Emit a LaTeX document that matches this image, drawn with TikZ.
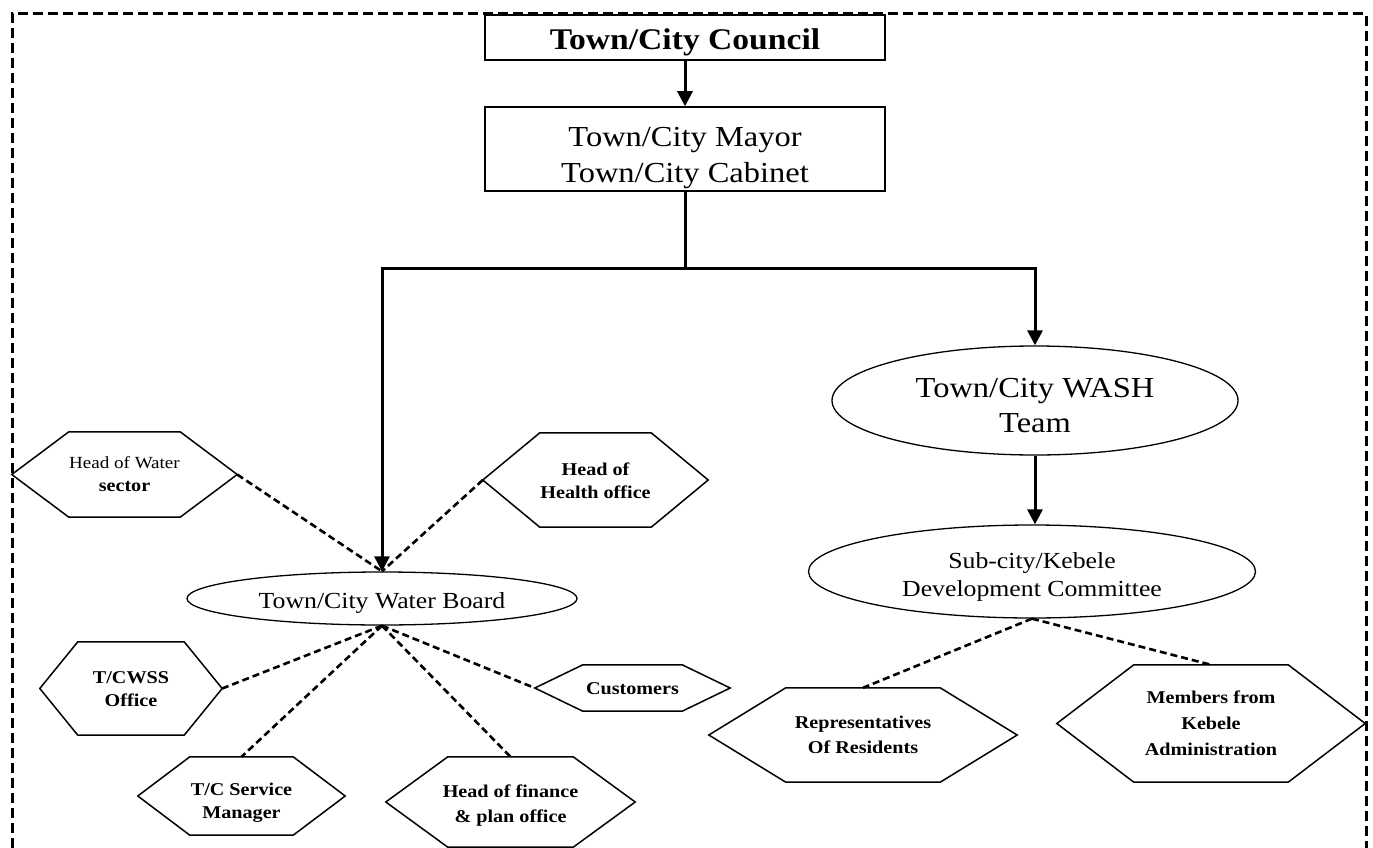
\documentclass[tikz,border=0pt]{standalone}
\usepackage{fontspec}
\setmainfont{Liberation Serif}[FakeStretch=1.12]
\usetikzlibrary{shapes.geometric,arrows.meta,calc}
\tikzset{
  box/.style={draw, line width=1.5pt, rectangle, inner sep=0pt},
  oval/.style={draw, ellipse, line width=1.3pt, inner sep=0pt},
  hexn/.style={inner sep=0pt},
  tx/.style={inner sep=0pt, align=center},
  hextx/.style={tx, font=\fontsize{18}{23}\selectfont\bfseries},
  hexline/.style={line width=1.5pt, line join=miter},
  arr/.style={line width=3pt, -{Triangle[length=15pt,width=15pt]}},
  trunk/.style={line width=3pt},
  dcon/.style={line width=2.6pt, dash pattern=on 7pt off 4pt},
  framel/.style={line width=3pt, dash pattern=on 10pt off 5pt},
}
\begin{document}
\begin{tikzpicture}[x=1pt,y=-1pt]
\path[fill=white,use as bounding box] (0,0) rectangle (1373,848);
\draw[framel] (12,848) -- (12,14) -- (1366,14) -- (1366,848);

% boxes
\node[box, minimum width=400, minimum height=45] (council) at (685,37.5) {};
\node[tx, font=\fontsize{30}{34}\selectfont\bfseries] (council-t) at ([yshift=-5pt]council.center) {Town/City Council};
\node[box, minimum width=400, minimum height=84] (mayor) at (685,149) {};
\node[tx, font=\fontsize{29}{36}\selectfont] (mayor-t) at ([yshift=-9pt]mayor.center) {Town/City Mayor\\Town/City Cabinet};

% ellipses
\node[oval, minimum width=390, minimum height=53] (wb) at (382,598.5) {};
\node[tx, font=\fontsize{23}{27}\selectfont] (wb-t) at ([yshift=-4pt]wb.center) {Town/City Water Board};
\node[oval, minimum width=406, minimum height=109] (wt) at (1035,400.5) {};
\node[tx, font=\fontsize{29}{35}\selectfont] (wt-t) at ([yshift=-5pt]wt.center) {Town/City WASH\\Team};
\node[oval, minimum width=447, minimum height=93] (sc) at (1032,571.5) {};
\node[tx, font=\fontsize{23}{28}\selectfont] (sc-t) at ([yshift=-5pt]sc.center) {Sub-city/Kebele\\Development Committee};

% hexagon shapes
\node[hexn, minimum width=225, minimum height=85] (ws) at (124.5,474.5) {};
\node[hexn, minimum width=225, minimum height=94] (ho) at (595.5,480) {};
\node[hexn, minimum width=182, minimum height=93] (tc) at (131,688.5) {};
\node[hexn, minimum width=207, minimum height=78] (sm) at (241.5,796) {};
\node[hexn, minimum width=249, minimum height=90] (fp) at (510.5,802) {};
\node[hexn, minimum width=195, minimum height=46] (cu) at (632.5,688) {};
\node[hexn, minimum width=308, minimum height=94] (rr) at (863,735) {};
\node[hexn, minimum width=308, minimum height=117] (mk) at (1211,723.5) {};

\foreach \n/\d in {ws/57,ho/57,tc/38,sm/52,fp/62,cu/48,rr/77,mk/77}
  \draw[hexline] (\n.west) -- ([xshift=\d pt]\n.north west) -- ([xshift=-\d pt]\n.north east)
     -- (\n.east) -- ([xshift=-\d pt]\n.south east) -- ([xshift=\d pt]\n.south west) -- cycle;

% hexagon texts
\node[hextx] (ws-t) at (ws.center) {{\fontsize{17}{22}\selectfont\mdseries Head of Water}\\sector};
\node[hextx] (ho-t) at ([yshift=-1pt]ho.center) {Head of\\Health office};
\node[hextx] (tc-t) at ([yshift=-1pt]tc.center) {T/CWSS\\Office};
\node[hextx] (sm-t) at ([yshift=-7pt]sm.center) {T/C Service\\Manager};
\node[hextx, font=\fontsize{18}{25}\selectfont\bfseries] (fp-t) at ([yshift=-4pt]fp.center) {Head of finance\\\& plan office};
\node[hextx] (cu-t) at ([yshift=-1pt]cu.center) {Customers};
\node[hextx, font=\fontsize{18}{25}\selectfont\bfseries] (rr-t) at (rr.center) {Representatives\\Of Residents};
\node[hextx, font=\fontsize{18}{26}\selectfont\bfseries] (mk-t) at (mk.center) {Members from\\Kebele\\Administration};

% solid connectors
\coordinate (split) at (685,268);
\draw[arr] (council.south) -- (mayor.north);
\draw[trunk] (mayor.south) -- (split);
\draw[arr] (split) -| (wb.north);
\draw[arr] (split) -| (wt.north);
\draw[arr] (wt.south) -- (wt.south |- sc.north);

% dashed connectors
\draw[dcon] (ws.east) -- (wb.north);
\draw[dcon] (ho.west) -- (wb.north);
\draw[dcon] (wb.south) -- (tc.east);
\draw[dcon] (wb.south) -- (sm.north);
\draw[dcon] (wb.south) -- (fp.north);
\draw[dcon] (wb.south) -- (cu.west);
\draw[dcon] (sc.south) -- (rr.north);
\draw[dcon] (sc.south) -- (mk.north);
\end{tikzpicture}
\end{document}
